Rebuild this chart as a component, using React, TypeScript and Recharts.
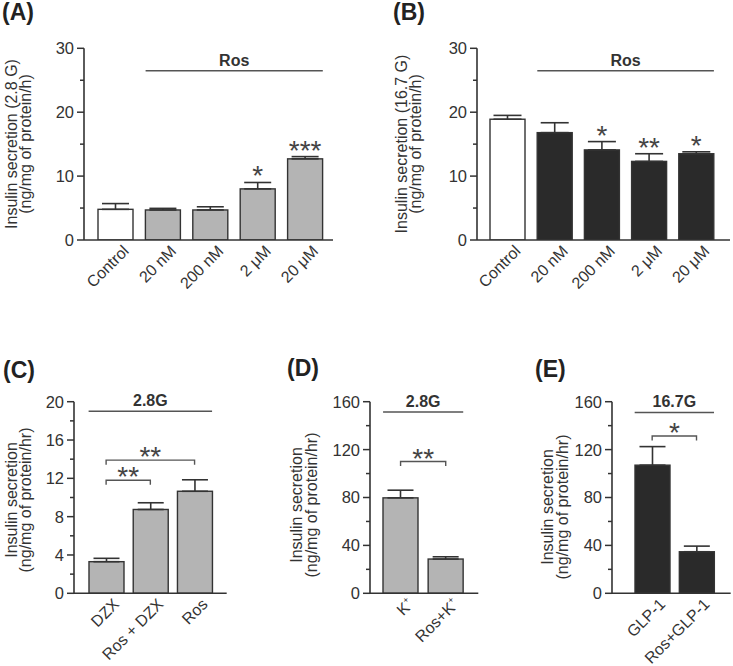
import React from 'react';
import { BarChart, Bar, XAxis, YAxis, ErrorBar, ReferenceLine } from 'recharts';

// (A) basal glucose, (B) stimulatory glucose
const doseLabels = ['Control', '20 nM', '200 nM', '2 μM', '20 μM'];
const lowGlucoseMean = [4.8, 4.7, 4.7, 8.0, 12.7];
const lowGlucoseSem = [0.9, 0.25, 0.5, 1.0, 0.35];
const lowGlucoseSig = ['', '', '', '*', '***'];

const highGlucoseMean = [18.9, 16.8, 14.1, 12.3, 13.5];
const highGlucoseSem = [0.6, 1.55, 1.3, 1.2, 0.3];
const highGlucoseSig = ['', '', '*', '**', '*'];

// (C)
const dzxLabels = ['DZX', 'Ros + DZX', 'Ros'];
const dzxMean = [3.3, 8.75, 10.65];
const dzxSem = [0.35, 0.7, 1.2];

// (D)
const kLabels = ['K⁺', 'Ros+K⁺'];
const kMean = [79.7, 28.6];
const kSem = [6.4, 1.9];

// (E)
const glpLabels = ['GLP-1', 'Ros+GLP-1'];
const glpMean = [107, 34.7];
const glpSem = [15.5, 4.7];

const ticks30 = [0, 5, 10, 15, 20, 25, 30];
const ticks20 = [0, 2, 4, 6, 8, 10, 12, 14, 16, 18, 20];
const ticks160 = [0, 20, 40, 60, 80, 100, 120, 140, 160];

const FONT = '"Liberation Sans", Arial, sans-serif';
const INK = '#333';
const GREY = '#b4b4b4';
const DARK = '#2a2a2a';
const BAR_W = 35;

type Span = { from: string; to: string; level: number; text: string };

const toRows = (labels: string[], mean: number[], sem: number[], sig?: string[]) =>
  labels.map((name, i) => ({ name, i, mean: mean[i], sem: sem[i], sig: sig ? sig[i] : '' }));

const YTick = (props: any, majorEvery: number) => {
  const { x, y, payload } = props;
  const major = payload.value % majorEvery === 0;
  return (
    <g>
      <line x1={x - (major ? 7 : 4)} x2={x} y1={y} y2={y} stroke={INK} strokeWidth={1.5} />
      {major && (
        <text x={x - 10} y={y} dy="0.36em" textAnchor="end" fontSize={16.5} fill={INK} fontFamily={FONT}>
          {payload.value}
        </text>
      )}
    </g>
  );
};

const XTick = (props: any) => {
  const { x, y, payload } = props;
  const parts = String(payload.value).split('⁺');
  return (
    <g transform={`translate(${x + 14},${y + 12}) rotate(-45)`}>
      <text textAnchor="end" fontSize={16} fill={INK} fontFamily={FONT}>
        {parts.map((p, k) => (
          <React.Fragment key={k}>
            {p}
            {k < parts.length - 1 && (
              <tspan fontSize={9} dy={-7}>+</tspan>
            )}
            {k < parts.length - 1 && <tspan dy={7}>{''}</tspan>}
          </React.Fragment>
        ))}
      </text>
    </g>
  );
};

const barShape = (fill: string, firstFill?: string) => (props: any) => {
  const { x, y, width, height } = props;
  const d = props.payload || props;
  const f = d.i === 0 && firstFill ? firstFill : fill;
  const errTop = d.mean > 0 ? y - (d.sem * height) / d.mean : y;
  return (
    <g>
      <rect x={x} y={y} width={width} height={height} fill={f} stroke={INK} strokeWidth={1.4} />
      {d.sig ? (
        <text x={x + width / 2} y={errTop + 3} textAnchor="middle" fontSize={28} fill="#444" fontFamily={FONT}>
          {d.sig}
        </text>
      ) : null}
    </g>
  );
};

const spanShape = (text: string) => (props: any) => {
  const { x1, y1, x2 } = props;
  const a = x1 - BAR_W / 2;
  const b = x2 + BAR_W / 2;
  return (
    <g>
      <line x1={a} x2={b} y1={y1} y2={y1} stroke="#555" strokeWidth={1.5} />
      <text x={(a + b) / 2} y={y1 - 5} textAnchor="middle" fontSize={16} fontWeight="bold" fill={INK} fontFamily={FONT}>
        {text}
      </text>
    </g>
  );
};

const bracketShape = (text: string) => (props: any) => {
  const { x1, y1, x2 } = props;
  return (
    <g>
      <path d={`M${x1},${y1 + 4.5}V${y1}H${x2}V${y1 + 4.5}`} fill="none" stroke="#555" strokeWidth={1.4} />
      <text x={(x1 + x2) / 2} y={y1 + 6} textAnchor="middle" fontSize={28} fill="#444" fontFamily={FONT}>
        {text}
      </text>
    </g>
  );
};

type PanelProps = {
  left: number;
  top: number;
  yWidth: number;
  plotTop: number;
  plotW: number;
  plotH: number;
  right: number;
  rows: any[];
  domain: [number, number];
  ticks: number[];
  majorEvery: number;
  fill: string;
  firstFill?: string;
  pad: { left: number; right: number };
  capWidth: number;
  spans: Span[];
  brackets: Span[];
};

function Panel(p: PanelProps) {
  const xH = 75;
  return (
    <div style={{ position: 'absolute', left: p.left, top: p.top }}>
      <BarChart
        width={p.yWidth + p.plotW + p.right}
        height={p.plotTop + p.plotH + xH}
        data={p.rows}
        margin={{ top: p.plotTop, right: p.right, bottom: 0, left: 0 }}
        barSize={BAR_W}
      >
        <XAxis
          dataKey="name"
          type="category"
          height={xH}
          interval={0}
          padding={p.pad}
          tickLine={false}
          tickSize={0}
          tickMargin={0}
          axisLine={{ stroke: INK, strokeWidth: 1.6 }}
          tick={XTick}
        />
        <YAxis
          width={p.yWidth}
          domain={p.domain}
          ticks={p.ticks}
          interval={0}
          allowDataOverflow
          tickLine={false}
          tickSize={0}
          tickMargin={0}
          axisLine={{ stroke: INK, strokeWidth: 1.6 }}
          tick={(t: any) => YTick(t, p.majorEvery)}
        />
        <Bar dataKey="mean" isAnimationActive={false} shape={barShape(p.fill, p.firstFill)}>
          <ErrorBar
            dataKey={(d: any) => [0, d.sem]}
            direction="y"
            width={p.capWidth / 2}
            stroke={INK}
            strokeWidth={1.6}
            isAnimationActive={false}
          />
        </Bar>
        {p.spans.map((s, k) => (
          <ReferenceLine
            key={`s${k}`}
            segment={[{ x: s.from, y: s.level }, { x: s.to, y: s.level }]}
            shape={spanShape(s.text)}
          />
        ))}
        {p.brackets.map((s, k) => (
          <ReferenceLine
            key={`b${k}`}
            segment={[{ x: s.from, y: s.level }, { x: s.to, y: s.level }]}
            shape={bracketShape(s.text)}
          />
        ))}
      </BarChart>
    </div>
  );
}

const yLabels = [
  { x: [11, 25], y: 144, lines: ['Insulin secretion (2.8 G)', '(ng/mg of protein/h)'] },
  { x: [401, 415], y: 144, lines: ['Insulin secretion (16.7 G)', '(ng/mg of protein/h)'] },
  { x: [11, 25], y: 500, lines: ['Insulin secretion', '(ng/mg of protein/hr)'] },
  { x: [296, 311], y: 505, lines: ['Insulin secretion', '(ng/mg of protein/hr)'] },
  { x: [547, 562], y: 507, lines: ['Insulin secretion', '(ng/mg of protein/hr)'] },
];

const letters = [
  { t: '(A)', x: 2, y: 20 },
  { t: '(B)', x: 393, y: 20 },
  { t: '(C)', x: 3, y: 378 },
  { t: '(D)', x: 287, y: 376 },
  { t: '(E)', x: 535, y: 377 },
];

export default function App() {
  return (
    <div style={{ position: 'absolute', left: 0, top: 0, width: 733, height: 666, background: '#fff', overflow: 'hidden', fontFamily: FONT }}>
      <Panel
        left={0} top={0} yWidth={84} plotTop={48.3} plotW={249} plotH={191.7} right={4}
        rows={toRows(doseLabels, lowGlucoseMean, lowGlucoseSem, lowGlucoseSig)}
        domain={[0, 30]} ticks={ticks30} majorEvery={10}
        fill={GREY} firstFill="#fff" pad={{ left: 8, right: 4 }} capWidth={27}
        spans={[{ from: '20 nM', to: '20 μM', level: 26.5, text: 'Ros' }]}
        brackets={[]}
      />
      <Panel
        left={393} top={0} yWidth={84} plotTop={48.3} plotW={253} plotH={191.7} right={3}
        rows={toRows(doseLabels, highGlucoseMean, highGlucoseSem, highGlucoseSig)}
        domain={[0, 30]} ticks={ticks30} majorEvery={10}
        fill={DARK} firstFill="#fff" pad={{ left: 7, right: 10 }} capWidth={28}
        spans={[{ from: '20 nM', to: '20 μM', level: 26.5, text: 'Ros' }]}
        brackets={[]}
      />
      <Panel
        left={0} top={350} yWidth={74} plotTop={51.7} plotW={152.7} plotH={191.6} right={3}
        rows={toRows(dzxLabels, dzxMean, dzxSem)}
        domain={[0, 20]} ticks={ticks20} majorEvery={4}
        fill={GREY} pad={{ left: 10, right: 10 }} capWidth={26}
        spans={[{ from: 'DZX', to: 'Ros', level: 19, text: '2.8G' }]}
        brackets={[
          { from: 'DZX', to: 'Ros + DZX', level: 11.8, text: '**' },
          { from: 'DZX', to: 'Ros', level: 13.9, text: '**' },
        ]}
      />
      <Panel
        left={296} top={350} yWidth={74} plotTop={51.7} plotW={108.3} plotH={191.6} right={3}
        rows={toRows(kLabels, kMean, kSem)}
        domain={[0, 160]} ticks={ticks160} majorEvery={40}
        fill={GREY} pad={{ left: 8, right: 10 }} capWidth={26}
        spans={[{ from: 'K⁺', to: 'Ros+K⁺', level: 151.5, text: '2.8G' }]}
        brackets={[{ from: 'K⁺', to: 'Ros+K⁺', level: 110, text: '**' }]}
      />
      <Panel
        left={538} top={350} yWidth={74} plotTop={51.7} plotW={118.7} plotH={191.6} right={2}
        rows={toRows(glpLabels, glpMean, glpSem)}
        domain={[0, 160]} ticks={ticks160} majorEvery={40}
        fill={DARK} pad={{ left: 18, right: 12 }} capWidth={26}
        spans={[{ from: 'GLP-1', to: 'Ros+GLP-1', level: 151, text: '16.7G' }]}
        brackets={[{ from: 'GLP-1', to: 'Ros+GLP-1', level: 131.4, text: '*' }]}
      />
      <svg width={733} height={666} style={{ position: 'absolute', left: 0, top: 0, pointerEvents: 'none' }}>
        {letters.map((l) => (
          <text key={l.t} x={l.x} y={l.y} fontSize={23} fontWeight="bold" fill="#222" fontFamily={FONT}>
            {l.t}
          </text>
        ))}
        {yLabels.map((g, k) =>
          g.lines.map((line, j) => (
            <text
              key={`${k}-${j}`}
              transform={`translate(${g.x[j]},${g.y}) rotate(-90)`}
              textAnchor="middle"
              dy="0.35em"
              fontSize={16}
              fill={INK}
              fontFamily={FONT}
            >
              {line}
            </text>
          ))
        )}
      </svg>
    </div>
  );
}
